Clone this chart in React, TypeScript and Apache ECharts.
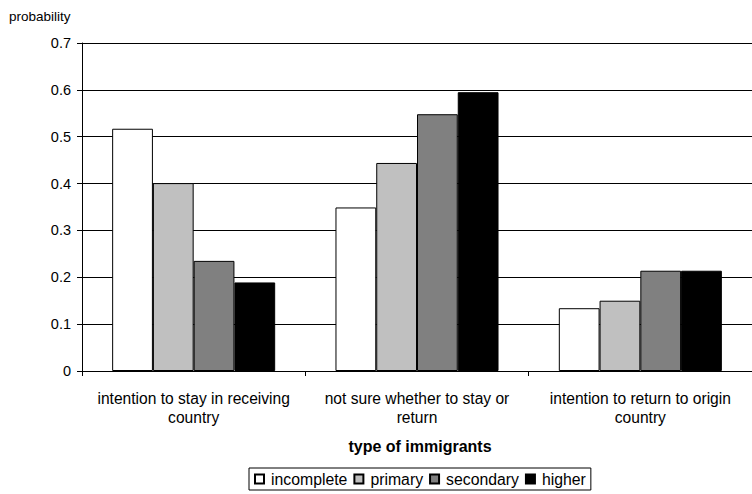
import React, { useEffect, useRef } from "react";
import * as echarts from "echarts";

const categories = [
  "intention to stay in receiving\ncountry",
  "not sure whether to stay or\nreturn",
  "intention to return to origin\ncountry",
];
const seriesNames = ["incomplete", "primary", "secondary", "higher"];
const incomplete = [0.517, 0.349, 0.134];
const primary = [0.401, 0.444, 0.15];
const secondary = [0.235, 0.548, 0.214];
const higher = [0.189, 0.595, 0.214];
const seriesValues = [incomplete, primary, secondary, higher];
const seriesColors = ["#ffffff", "#c0c0c0", "#808080", "#000000"];
const yAxisTitle = "probability";
const xAxisTitle = "type of immigrants";

const FONT = "Liberation Sans, Arial, sans-serif";

export default function App() {
  const ref = useRef<HTMLDivElement>(null);
  useEffect(() => {
    if (!ref.current) return;
    const chart = echarts.init(ref.current, undefined, { renderer: "svg" });
    chart.setOption({
      animation: false,
      textStyle: { fontFamily: FONT, color: "#000" },
      grid: { left: 82, top: 43, width: 676, height: 328, containLabel: false },
      graphic: [
        {
          type: "text",
          x: 9,
          y: 16,
          style: {
            text: yAxisTitle,
            font: `13.5px ${FONT}`,
            fill: "#000",
            textVerticalAlign: "middle",
          },
        },
        {
          type: "text",
          x: 420,
          y: 446,
          style: {
            text: xAxisTitle,
            font: `bold 16px ${FONT}`,
            fill: "#000",
            textAlign: "center",
            textVerticalAlign: "middle",
          },
        },
      ],
      legend: {
        data: seriesNames,
        left: 249,
        top: 468,
        orient: "horizontal",
        borderColor: "#000",
        borderWidth: 1,
        borderRadius: 0,
        padding: [3, 5, 3, 5],
        itemGap: 6,
        itemWidth: 9,
        itemHeight: 9,
        icon: "rect",
        textStyle: { fontFamily: FONT, fontSize: 15.8, color: "#000", padding: [0, 0, 0, 2] },
      },
      xAxis: {
        type: "category",
        data: categories,
        axisLine: { lineStyle: { color: "#000", width: 1 } },
        axisTick: { show: true, length: 5, lineStyle: { color: "#000" } },
        axisLabel: { fontFamily: FONT, fontSize: 15.6, color: "#000", margin: 18, lineHeight: 19, interval: 0 },
        splitLine: { show: false },
      },
      yAxis: {
        type: "value",
        min: 0,
        max: 0.7,
        interval: 0.1,
        axisLine: { show: true, lineStyle: { color: "#000", width: 1 } },
        axisTick: { show: true, length: 5, lineStyle: { color: "#000" } },
        axisLabel: { fontFamily: FONT, fontSize: 14.5, color: "#000", margin: 11 },
        splitLine: { show: true, lineStyle: { color: "#000", width: 1 } },
      },
      series: seriesNames.map((name, i) => ({
        name,
        type: "bar",
        data: seriesValues[i],
        barGap: "0%",
        barCategoryGap: "27%",
        itemStyle: { color: seriesColors[i], borderColor: "#000", borderWidth: 1 },
      })),
    });
    return () => chart.dispose();
  }, []);
  return (
    <div
      ref={ref}
      style={{ position: "fixed", left: 0, top: 0, width: 752, height: 494, background: "#fff" }}
    />
  );
}
